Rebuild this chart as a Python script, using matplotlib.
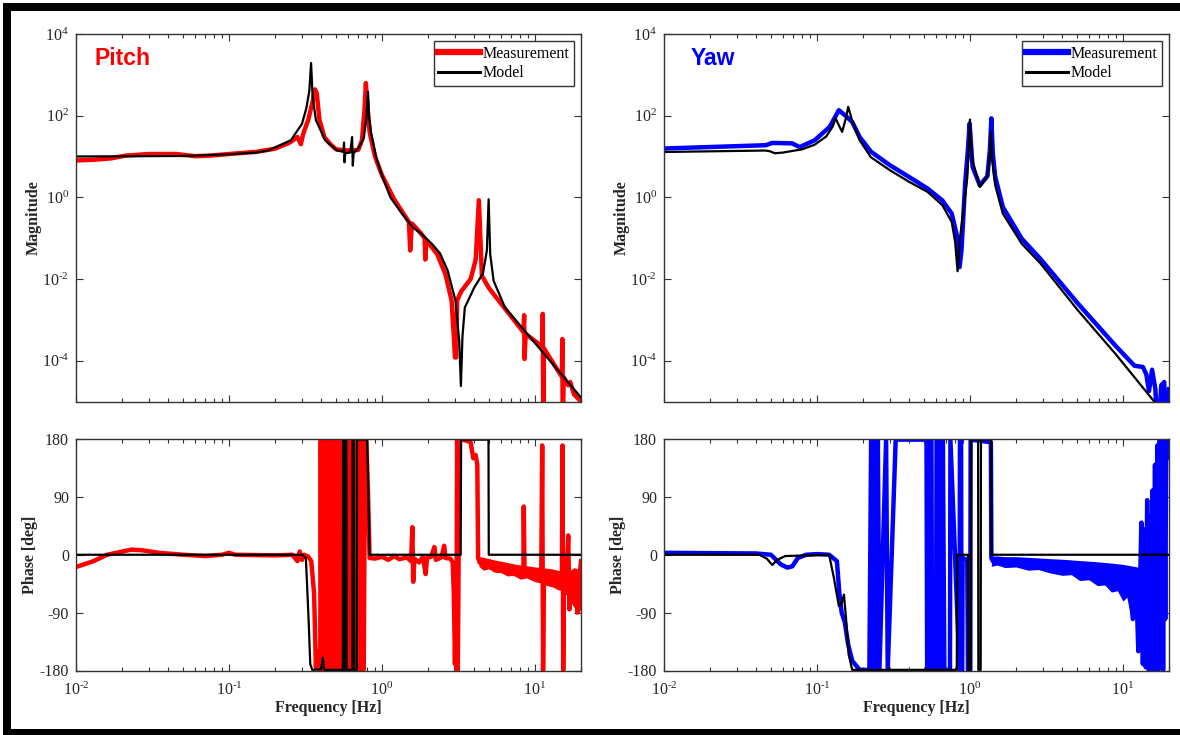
import math
import matplotlib
matplotlib.use("Agg")
import matplotlib.pyplot as plt
from matplotlib.ticker import FixedLocator, LogLocator, NullLocator, FuncFormatter, NullFormatter
from matplotlib.patches import Rectangle

plt.rcParams["font.family"] = "Liberation Serif"
plt.rcParams["mathtext.fontset"] = "custom"
plt.rcParams["mathtext.rm"] = "Liberation Serif"
plt.rcParams["mathtext.it"] = "Liberation Serif:italic"
plt.rcParams["mathtext.bf"] = "Liberation Serif:bold"
plt.rcParams["axes.unicode_minus"] = False

# ---------------- Pitch: magnitude ----------------
pitch_mag_meas_f = [0.01, 0.013, 0.017, 0.021, 0.03, 0.045, 0.06, 0.075, 0.1, 0.15, 0.2, 0.25, 0.28,
                    0.295, 0.305, 0.33, 0.355, 0.365, 0.375, 0.39, 0.42, 0.46, 0.5, 0.6, 0.7, 0.74,
                    0.77, 0.785, 0.80, 0.83, 0.9, 1.0, 1.2, 1.5, 1.53, 1.57, 1.8, 1.9, 1.92, 1.95,
                    2.3, 2.6, 2.85, 2.95, 3.0, 3.05, 3.1, 3.3, 3.8, 4.1, 4.3, 4.5, 5.0, 6.0, 7.0,
                    8.4, 8.5, 8.55, 8.7, 11.2, 11.25, 11.35, 11.45, 15.0, 15.1, 15.2, 15.4, 16.5,
                    17.0, 18.0, 20.0]
pitch_mag_meas = [8, 8.3, 9, 10.5, 11.5, 11.5, 10.2, 10.5, 11.5, 13, 15.5, 22, 30,
                  20, 35, 80, 250, 440, 350, 80, 30, 20, 15, 14, 14.5, 25,
                  150, 630, 200, 40, 10, 3.5, 0.9, 0.25, 0.05, 0.23, 0.13, 0.1, 0.03, 0.09,
                  0.04, 0.013, 0.003, 4e-4, 1.2e-4, 1.2e-4, 0.003, 0.005, 0.01, 0.03, 0.85, 0.012, 0.006, 0.0025, 0.0012,
                  5e-4, 1.3e-3, 1.1e-4, 4.5e-4, 2.2e-4, 1.4e-3, 1e-6, 2e-4, 4e-5, 3.4e-4, 1e-6, 4e-5, 2.5e-5,
                  3e-5, 1.5e-5, 1e-5]

pitch_mag_model_f = [0.01, 0.05, 0.1, 0.15, 0.18, 0.254, 0.30, 0.32, 0.335, 0.344, 0.352, 0.37, 0.425,
                     0.51, 0.56, 0.565, 0.569, 0.575, 0.62, 0.638, 0.645, 0.652, 0.70, 0.76, 0.79,
                     0.81, 0.825, 0.85, 0.92, 1.01, 1.135, 1.35, 1.6, 1.8, 2.14, 2.4, 2.69, 3.02,
                     3.2, 3.28, 3.36, 3.48, 4.02, 4.57, 4.85, 4.98, 5.1, 5.37, 6.37, 10.1, 20.0]
pitch_mag_model = [10, 10.3, 11.3, 12.5, 14, 25, 63, 150, 400, 1950, 300, 78, 25,
                   14, 13, 22, 7.2, 12, 12.5, 30, 6, 12, 16, 28, 80,
                   383, 90, 37, 9, 3.1, 1.0, 0.4, 0.18, 0.13, 0.07, 0.042, 0.016, 0.003,
                   3e-4, 2.4e-5, 4e-4, 0.002, 0.0063, 0.0136, 0.05, 0.9, 0.04, 0.009, 0.002, 2.6e-4, 1.25e-5]

# ---------------- Pitch: phase ----------------
pitch_ph_meas_f = [0.01, 0.013, 0.016, 0.02, 0.023, 0.027, 0.035, 0.05, 0.07, 0.09, 0.1, 0.11, 0.2,
                   0.26, 0.28, 0.29, 0.3, 0.31, 0.33, 0.345, 0.36, 0.37, 0.375, 0.385, 0.395,
                   0.398, 0.402, 0.408, 0.413, 0.42, 0.426, 0.433, 0.44, 0.447, 0.455, 0.463,
                   0.471, 0.48, 0.49, 0.5, 0.51, 0.52, 0.53, 0.54, 0.55, 0.56, 0.575, 0.59, 0.6,
                   0.61, 0.62, 0.635, 0.65, 0.66, 0.67, 0.685, 0.70, 0.715, 0.73, 0.745, 0.76,
                   0.775, 0.79, 0.81, 0.83, 0.9, 1.0, 1.1, 1.2, 1.3, 1.45, 1.55, 1.58, 1.6,
                   1.63, 1.75, 1.85, 1.93, 1.97, 2.1, 2.2, 2.25, 2.45, 2.55, 2.6, 2.8, 2.9, 2.95,
                   3.0, 3.03, 3.06, 3.1, 3.13, 3.16, 3.2, 3.5, 3.8, 3.95, 4.1, 4.2, 4.25, 4.35,
                   4.6, 5.0, 5.2, 5.5, 6.0, 7.0, 8.0, 8.4, 8.45, 8.55, 9.5, 11.0, 11.15, 11.3,
                   11.45, 12.5, 14.0, 15.0, 15.15, 15.3, 15.45, 16.0, 16.5, 16.8, 17.5, 18.5,
                   19.0, 19.5, 20.0]
pitch_ph_meas = [-19, -10, 0, 5, 8, 7, 3, 0, -2, 0, 3, 0, -1,
                 0, -10, 5, -8, 0, -3, -10, -60, -175, -150, -178, -178,
                 178, -178, 178, -178, 178, -178, 178, -178, 178, -178, 178,
                 -178, 178, -178, 178, -178, 178, -178, 178, -178, 178, -178, 178, -178,
                 178, -178, 178, -178, 178, -178, 178, -178, 178, -178, 178, -178,
                 178, 178, 100, -5, -6, -3, -8, -2, -7, -4, -10, 43, -42,
                 -6, -12, -3, -30, -5, -3, 12, -8, -4, 14, -5, -6, -12, -60,
                 -170, -100, -180, 180, -180, -60, 180, 178, 175, 150, 155, 140, -5, -12,
                 -15, -10, -20, -17, -22, -22, -25, -27, 75, -27, -30, -30, 170, -180,
                 -35, -38, -40, -45, 170, -180, -45, -55, 30, -85, -50, -60,
                 -90, -40, -10]

# noise band of the pitch phase above the upper resonance
pitch_ph_band_f = [4.3, 4.6, 5.0, 5.4, 6.0, 6.6, 7.2, 8.0, 8.8, 10.0, 11.0, 12.0, 13.0, 14.0,
                   15.0, 16.0, 17.0, 18.0, 19.0, 20.0]
pitch_ph_band_hi = [-3, -4, -6, -8, -10, -12, -14, -16, -17, -19, -20, -21, -22, -24,
                    -25, -26, -24, -20, -22, -10]
pitch_ph_band_lo = [-18, -24, -22, -27, -28, -33, -32, -38, -36, -42, -44, -48, -50, -54,
                    -56, -62, -72, -82, -75, -92]

pitch_ph_model_f = [0.01, 0.3, 0.318, 0.33, 0.34, 0.35, 0.40, 0.41, 0.42, 0.555, 0.557, 0.565,
                    0.567, 0.575, 0.577, 0.585, 0.587, 0.64, 0.642, 0.655, 0.657, 0.685, 0.687,
                    0.80, 0.815, 0.83, 3.27, 3.29, 4.97, 4.99, 20.0]
pitch_ph_model = [0, 0, -5, -90, -170, -179, -178, -160, -179, -179, 179, 179,
                  -179, -179, 179, 179, -179, -179, 179, 179, -179, -179, 179,
                  179, 90, 0, 0, 179, 179, 0, 0]

# ---------------- Yaw: magnitude ----------------
yaw_mag_meas_f = [0.01, 0.0463, 0.051, 0.0687, 0.077, 0.0966, 0.121, 0.139, 0.152, 0.17, 0.19,
                  0.226, 0.30, 0.40, 0.53, 0.66, 0.76, 0.82, 0.855, 0.88, 0.93, 0.97, 0.995, 1.04,
                  1.16, 1.3, 1.35, 1.38, 1.41, 1.46, 1.64, 2.18, 2.89, 5.08, 8.96, 11.9, 13.5,
                  14.2, 14.8, 15.5, 16.3, 16.9, 17.8, 18.6, 19.2, 20.0]
yaw_mag_meas = [15.7, 18.9, 21.5, 21, 17, 25, 53, 136, 103, 70, 30,
                13, 6.1, 3.15, 1.63, 0.84, 0.4, 0.12, 0.0195, 0.05, 2.2, 15, 64, 5.6,
                1.97, 3.3, 15, 86, 12, 3.3, 0.58, 0.097, 0.031, 0.0025, 2.3e-4, 7.5e-5, 7e-5,
                4.7e-5, 1.8e-5, 6e-5, 2e-5, 1e-6, 2.5e-5, 3e-5, 1e-6, 2e-5]

yaw_mag_model_f = [0.01, 0.046, 0.049, 0.053, 0.06, 0.08, 0.0966, 0.115, 0.127, 0.132, 0.137,
                   0.146, 0.155, 0.16, 0.165, 0.17, 0.19, 0.225, 0.30, 0.40, 0.53, 0.66, 0.76,
                   0.80, 0.83, 0.86, 0.90, 0.96, 0.99, 1.0, 1.01, 1.04, 1.16, 1.3, 1.35, 1.37,
                   1.39, 1.46, 1.64, 2.18, 2.89, 5.08, 8.96, 16.0]
yaw_mag_model = [12.9, 14, 13.5, 12, 12.5, 15, 19.5, 31, 55, 87, 65,
                 40, 90, 165, 110, 74, 25, 9.6, 4.6, 2.4, 1.35, 0.64, 0.25,
                 0.08, 0.0155, 0.1, 0.39, 3, 30, 80, 25, 8, 1.8, 3.3, 10, 40,
                 10, 2.0, 0.4, 0.073, 0.024, 0.0017, 1.45e-4, 1.0e-5]

# ---------------- Yaw: phase ----------------
yaw_ph_meas_f = [0.01, 0.04, 0.05, 0.058, 0.064, 0.069, 0.075, 0.085, 0.1, 0.12, 0.135, 0.14,
                 0.145, 0.152, 0.16, 0.17, 0.19, 0.22, 0.226, 0.232, 0.238, 0.244, 0.25, 0.256,
                 0.283, 0.29, 0.327, 0.335, 0.52, 0.525, 0.54, 0.545, 0.56, 0.565, 0.6, 0.605,
                 0.63, 0.635, 0.66, 0.665, 0.68, 0.74, 0.745, 0.855, 0.86, 0.875, 0.88, 0.89,
                 0.895, 0.96, 0.97, 1.005, 1.01, 1.37, 1.38, 1.4]
yaw_ph_meas = [3, 2, 0, -15, -20, -18, -5, 0, 1, 0, -10, -60,
               -90, -105, -140, -165, -179, -179, 179, -179, 179, -179, 179, -179,
               179, -179, 179, 179, 179, -179, -179, 179, 179, -179, -179, 179,
               179, -179, -179, 179, -179, -179, 179, -179, 179, 179, -179, -179,
               -5, -8, -179, -179, 179, 175, -5, -8]

# noise band of the yaw phase above the upper resonance
yaw_ph_band_f = [1.38, 1.5, 1.7, 2.0, 2.4, 2.8, 3.3, 4.0, 4.6, 5.2, 6.0, 6.8, 7.6, 8.4, 9.2,
                 10.0, 10.6, 11.2, 11.8, 12.4, 13.0]
yaw_ph_band_hi = [-2, -2, -3, -3, -4, -5, -6, -7, -8, -9, -10, -11, -12, -13, -14,
                  -15, -16, -17, -18, -19, -20]
yaw_ph_band_lo = [-18, -16, -20, -19, -24, -23, -28, -32, -31, -40, -39, -48, -47, -58, -56,
                  -72, -66, -95, -82, -130, -145]

# large phase excursions at the high-frequency end of the yaw measurement
yaw_ph_tail_f = [11.0, 11.6, 12.2, 12.6, 12.9, 13.2, 13.5, 13.8, 14.1, 14.4, 14.7, 15.0, 15.3, 15.6,
                 15.9, 16.2, 16.5, 16.8, 17.1, 17.4, 17.7, 18.0, 18.3, 18.6, 18.9, 19.2, 19.5,
                 19.8, 20.0]
yaw_ph_tail = [-30, -100, -40, -150, -60, 50, -170, 40, -175, 85, -178, 60, -179, 100,
               -179, 140, -179, 170, -179, 178, -120, 178, -179, 178, -100, 179, 150,
               178, 178]

yaw_ph_model_f = [0.01, 0.042, 0.047, 0.051, 0.055, 0.062, 0.12, 0.129, 0.139, 0.145, 0.15,
                  0.155, 0.161, 0.17, 0.82, 0.825, 0.97, 0.975, 1.01, 1.015, 1.13, 1.135, 1.175,
                  1.18, 1.375, 1.385, 20.0]
yaw_ph_model = [0, 0, -6, -16, -8, -2, 0, -36, -80, -75, -62,
                -100, -155, -179, -179, 0, 0, -179, -179, 179, 179, -179, -179,
                179, 179, 0, 0]

# ---------------- Figure ----------------
RED = "#ff0000"
BLUE = "#0000ff"
MEAS_LW = 3.2
MODEL_LW = 1.6

fig = plt.figure(figsize=(11.8, 7.35), dpi=100)
W, H = 1180.0, 735.0


def axes_px(left, top, right, bottom):
    return fig.add_axes([left / W, 1 - bottom / H, (right - left) / W, (bottom - top) / H])


ax_pm = axes_px(76, 34, 581, 401.5)
ax_pp = axes_px(76, 439, 581, 670.5)
ax_ym = axes_px(664, 34, 1169, 401.5)
ax_yp = axes_px(664, 439, 1169, 670.5)

SPINE = "#333333"
TXT = "#262626"


def pow10(v, pos):
    e = int(round(math.log10(v)))
    if e < 0:
        return r"$10^{\text{-}%d}$" % (-e)
    return r"$10^{%d}$" % e


def style(ax, mag, show_x):
    ax.set_xscale("log")
    ax.set_xlim(0.01, 20)
    ax.xaxis.set_major_locator(FixedLocator([0.01, 0.1, 1, 10]))
    ax.xaxis.set_minor_locator(LogLocator(base=10, subs=range(2, 10), numticks=20))
    ax.xaxis.set_minor_formatter(NullFormatter())
    if show_x:
        ax.xaxis.set_major_formatter(FuncFormatter(pow10))
        ax.set_xlabel("Frequency [Hz]", fontsize=11.5, fontweight="bold", color=TXT, labelpad=1)
    else:
        ax.xaxis.set_major_formatter(NullFormatter())
    if mag:
        ax.set_yscale("log")
        ax.set_ylim(1e-5, 1e4)
        ax.yaxis.set_major_locator(FixedLocator([1e-4, 1e-2, 1, 1e2, 1e4]))
        ax.yaxis.set_minor_locator(NullLocator())
        ax.yaxis.set_major_formatter(FuncFormatter(pow10))
        ax.set_ylabel("Magnitude", fontsize=11.5, fontweight="bold", color=TXT, labelpad=0)
    else:
        ax.set_ylim(-180, 180)
        ax.yaxis.set_major_locator(FixedLocator([-180, -90, 0, 90, 180]))
        ax.set_ylabel("Phase [deg]", fontsize=11.5, fontweight="bold", color=TXT, labelpad=1)
    ax.tick_params(which="both", direction="in", top=True, right=True, colors=SPINE,
                   labelcolor=TXT, labelsize=11.5, width=0.8)
    ax.tick_params(which="major", length=5)
    ax.tick_params(axis="y", which="major", pad=5)
    ax.tick_params(axis="x", which="major", pad=8)
    ax.tick_params(which="minor", length=3)
    for s in ax.spines.values():
        s.set_color(SPINE)
        s.set_linewidth(1.0)


for ax, mag, show_x in [(ax_pm, True, False), (ax_pp, False, True), (ax_ym, True, False), (ax_yp, False, True)]:
    style(ax, mag, show_x)

# Pitch
l1, = ax_pm.plot(pitch_mag_meas_f, pitch_mag_meas, color=RED, lw=MEAS_LW, label="Measurement")
l2, = ax_pm.plot(pitch_mag_model_f, pitch_mag_model, color="black", lw=MODEL_LW, label="Model")
ax_pp.fill_between(pitch_ph_band_f, pitch_ph_band_lo, pitch_ph_band_hi, color=RED, lw=0)
ax_pp.plot(pitch_ph_meas_f, pitch_ph_meas, color=RED, lw=MEAS_LW)
ax_pp.plot(pitch_ph_model_f, pitch_ph_model, color="black", lw=MODEL_LW)

# Yaw
l3, = ax_ym.plot(yaw_mag_meas_f, yaw_mag_meas, color=BLUE, lw=MEAS_LW, label="Measurement")
l4, = ax_ym.plot(yaw_mag_model_f, yaw_mag_model, color="black", lw=MODEL_LW, label="Model")
ax_yp.fill_between(yaw_ph_band_f, yaw_ph_band_lo, yaw_ph_band_hi, color=BLUE, lw=0)
ax_yp.plot(yaw_ph_meas_f, yaw_ph_meas, color=BLUE, lw=MEAS_LW)
ax_yp.plot(yaw_ph_tail_f, yaw_ph_tail, color=BLUE, lw=MEAS_LW)
ax_yp.plot(yaw_ph_model_f, yaw_ph_model, color="black", lw=MODEL_LW)

for ax, handles in [(ax_pm, [l1, l2]), (ax_ym, [l3, l4])]:
    leg = ax.legend(handles=handles, loc="upper right", fontsize=11.5, frameon=True, fancybox=False,
                    edgecolor="black", handlelength=2.6, handletextpad=0.15, borderpad=0.3,
                    labelspacing=0.2, borderaxespad=0.45)
    leg.get_frame().set_linewidth(1.0)
    leg.legend_handles[0].set_linewidth(4.5)
    leg.legend_handles[1].set_linewidth(2.2)

ax_pm.text(0.037, 0.9156, "Pitch", transform=ax_pm.transAxes, color=RED, fontsize=16.5,
           fontweight="bold", family="Liberation Sans", va="baseline")
ax_ym.text(0.053, 0.9156, "Yaw", transform=ax_ym.transAxes, color=BLUE, fontsize=16.5,
           fontweight="bold", family="Liberation Sans", va="baseline")

# Black frame around the figure
for (x0, y0, w, h) in [(3, 3, 1177, 8), (3, 3, 8, 732), (3, 729, 1177, 6)]:
    fig.add_artist(Rectangle((x0 / W, 1 - (y0 + h) / H), w / W, h / H, transform=fig.transFigure,
                             facecolor="black", edgecolor="none"))

fig.savefig("out.png", dpi=100)
